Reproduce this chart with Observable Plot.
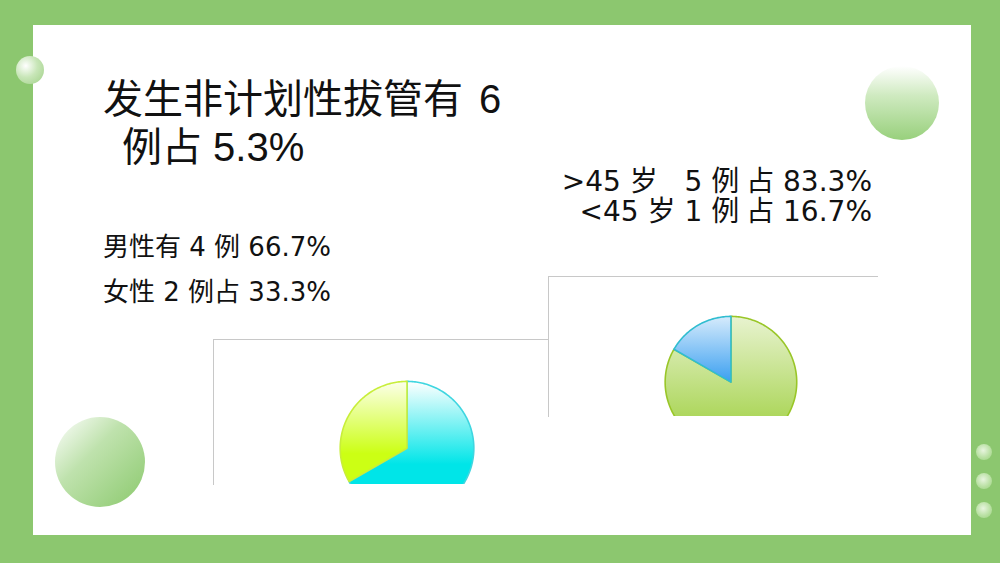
<!DOCTYPE html>
<html>
<head>
<meta charset="utf-8">
<script src="https://cdn.jsdelivr.net/npm/d3@7"></script>
<script src="https://cdn.jsdelivr.net/npm/@observablehq/plot@0.6"></script>
<style>
  html, body { margin: 0; padding: 0; }
  body { width: 1000px; height: 563px; background: #8cc76f; position: relative; overflow: hidden;
         font-family: "DejaVu Sans", "Noto Sans CJK SC", sans-serif; color: #111; }
  #panel { position: absolute; left: 33px; top: 25px; width: 938px; height: 510px; background: #fff; }
  .t { position: absolute; white-space: pre; line-height: 1.05; }
  .title { font-family: "Liberation Sans", "Noto Sans CJK SC", sans-serif; font-size: 40px; }
  .dot { position: absolute; border-radius: 50%; }
  .chart { position: absolute; background: #fff; overflow: hidden; box-sizing: border-box;
           border-top: 1.5px solid #c8c8c8; border-left: 1.5px solid #c8c8c8; }
  .chart svg { overflow: hidden; position: absolute; left: -1.5px; top: -1.5px; }
  .ls { letter-spacing: 7px; }
</style>
</head>
<body>
<div id="panel"></div>
<div class="dot" style="left:16px;top:56px;width:28px;height:28px;background:radial-gradient(circle at 35% 35%, #ffffff 0%, #c8e6b8 45%, #9fd086 100%);"></div>
<div class="dot" style="left:865px;top:66px;width:74px;height:74px;background:linear-gradient(to bottom, #ffffff 0%, #cfeac0 40%, #98d07c 100%);"></div>
<div class="dot" style="left:55px;top:417px;width:90px;height:90px;background:linear-gradient(135deg, #ffffff 0%, #bfe2ad 40%, #8bc96d 100%);"></div>
<div class="dot" style="left:976px;top:444px;width:16px;height:16px;background:radial-gradient(circle at 45% 40%, #e8f5df 0%, #b6df9f 60%, #9dd283 100%);"></div>
<div class="dot" style="left:976px;top:473px;width:16px;height:16px;background:radial-gradient(circle at 45% 40%, #e8f5df 0%, #b6df9f 60%, #9dd283 100%);"></div>
<div class="dot" style="left:976px;top:502px;width:16px;height:16px;background:radial-gradient(circle at 45% 40%, #e8f5df 0%, #b6df9f 60%, #9dd283 100%);"></div>

<div class="t title" style="left:103px;top:78px;word-spacing:5px;">发生非计划性拔管有 6</div>
<div class="t title" style="left:122px;top:126px;">例占 5.3%</div>
<div class="t" style="right:128px;top:167px;font-size:28px;">&gt;45 岁   5 <span class="ls">例</span>占 83.3%</div>
<div class="t" style="right:128px;top:197px;font-size:28px;">&lt;45 岁 1 <span class="ls">例</span>占 16.7%</div>
<div class="t" style="left:103px;top:234px;font-size:26px;">男性有 4 例 66.7%</div>
<div class="t" style="left:103px;top:279px;font-size:26px;">女性 2 例占 33.3%</div>

<div id="c1" class="chart" style="left:213px;top:339px;width:400px;height:146px;z-index:1;"></div>
<div id="c2" class="chart" style="left:548px;top:276px;width:330px;height:141px;z-index:2;"></div>

<script>
// ---- data ----
const genderLabels = ["男性", "女性"];
const genderCounts = [4, 2];
const ageLabels = [">45岁", "<45岁"];
const ageCounts = [5, 1];

const genderStyle = [
  {id: "gMale", top: "#ffffff", bottom: "#00e5e8", end: 0.62, stroke: "#3fd6e0"},
  {id: "gFemale", top: "#fcffea", bottom: "#ccff14", end: 0.72, stroke: "#c8ee3a"}
];
const ageStyle = [
  {id: "gOld", top: "#e8f3d0", bottom: "#acd65a", end: 0.78, stroke: "#99c628"},
  {id: "gYoung", top: "#d6ebfc", bottom: "#3a9ff0", end: 1, stroke: "#30bdd0"}
];

function slicePoints(labels, counts) {
  const arcs = d3.pie().sort(null)(counts);
  const rows = [];
  arcs.forEach((a, i) => {
    const n = Math.max(2, Math.ceil((a.endAngle - a.startAngle) / 0.02));
    rows.push({name: labels[i], x: 0, y: 0});
    for (let k = 0; k <= n; k++) {
      const t = a.startAngle + (a.endAngle - a.startAngle) * k / n;
      rows.push({name: labels[i], x: Math.sin(t), y: Math.cos(t)});
    }
    rows.push({name: labels[i], x: 0, y: 0});
  });
  return rows;
}

function defsMark(styles) {
  return () => {
    const ns = "http://www.w3.org/2000/svg";
    const defs = document.createElementNS(ns, "defs");
    for (const s of styles) {
      const g = document.createElementNS(ns, "linearGradient");
      g.setAttribute("id", s.id);
      g.setAttribute("x1", "0"); g.setAttribute("y1", "0");
      g.setAttribute("x2", "0"); g.setAttribute("y2", "1");
      [[0, s.top], [s.end, s.bottom]].forEach(([o, c]) => {
        const st = document.createElementNS(ns, "stop");
        st.setAttribute("offset", o);
        st.setAttribute("stop-color", c);
        g.appendChild(st);
      });
      defs.appendChild(g);
    }
    return defs;
  };
}

function pieChart(el, labels, counts, styles, w, h, cx, cy, r) {
  const pts = slicePoints(labels, counts);
  const marks = [defsMark(styles)];
  labels.forEach((lab, i) => {
    marks.push(Plot.line(pts.filter(d => d.name === lab), {
      x: "x", y: "y",
      fill: `url(#${styles[i].id})`,
      stroke: styles[i].stroke,
      strokeWidth: 1.6,
      curve: "linear"
    }));
  });
  const chart = Plot.plot({
    width: w, height: h,
    margin: 0,
    x: {domain: [-1, 1], range: [cx - r, cx + r], axis: null},
    y: {domain: [-1, 1], range: [cy + r, cy - r], axis: null},
    style: {background: "transparent"},
    marks
  });
  el.appendChild(chart);
}

pieChart(document.getElementById("c1"), genderLabels, genderCounts, genderStyle, 400, 146, 194, 109, 67);
pieChart(document.getElementById("c2"), ageLabels, ageCounts, ageStyle, 330, 141, 183, 106, 66);
</script>
</body>
</html>
